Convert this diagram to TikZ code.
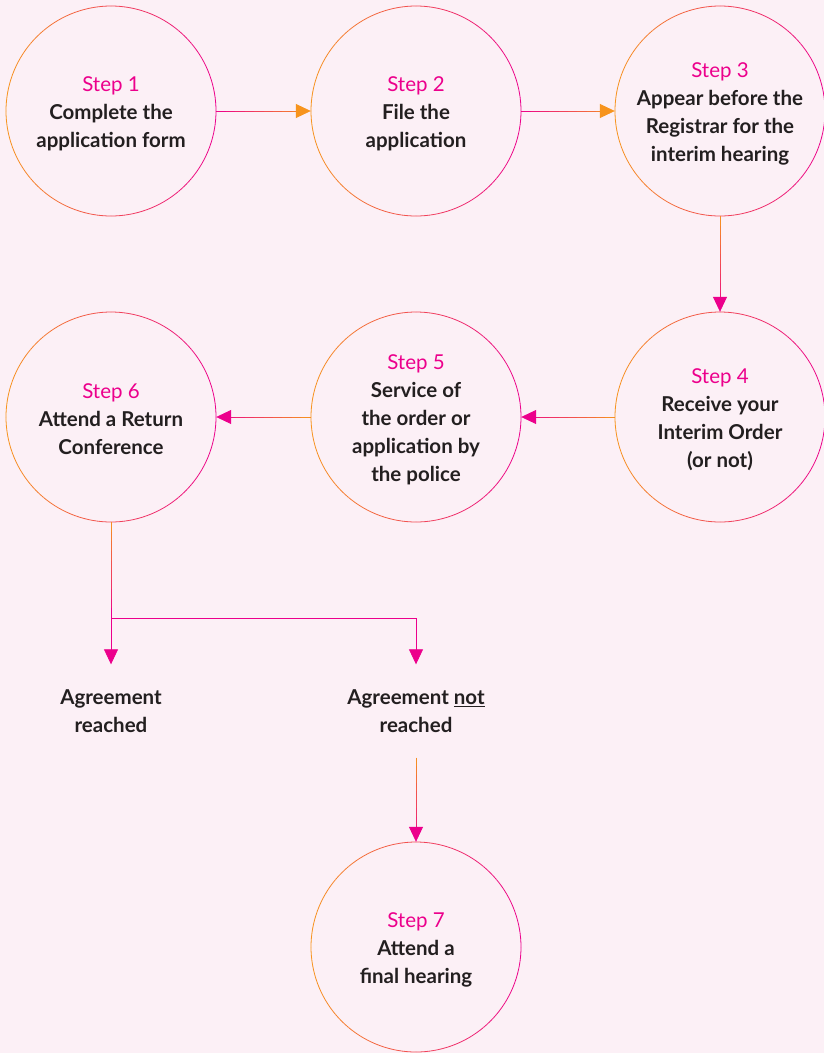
\documentclass[tikz,border=0pt]{standalone}
\usepackage{fontspec}
\setmainfont{Lato}
\usetikzlibrary{positioning, calc, arrows.meta}
\definecolor{stepPink}{HTML}{EC008C}
\definecolor{stepOrange}{HTML}{F7941D}
\definecolor{bodyText}{HTML}{231F20}
\definecolor{paper}{HTML}{FCF0F6}
\tikzset{stepnode/.style={circle, minimum size=210pt, inner sep=0pt, align=center,
    text=bodyText, font=\fontsize{20.5}{28}\selectfont\bfseries}}
\tikzset{outcome/.style={align=center, inner xsep=0pt, inner ysep=25pt,
    text=bodyText, font=\fontsize{20.5}{28}\selectfont\bfseries}}
\tikzset{flowtip/.style={-{Triangle[length=15pt,width=14pt]}}}
\tikzset{thin line/.style={line width=0.8pt}}
\newcommand{\steplabel}[1]{{\rule{0pt}{20pt}\mdseries\color{stepPink}Step #1}}
% ring of a step, orange on the left, pink on the right
\newcommand{\ring}[1]{%
  \foreach \a in {0,5,...,355}{%
    \pgfmathsetmacro{\mix}{50+50*cos(\a+2.5)}%
    \draw[thin line, stepPink!\mix!stepOrange] ($(#1.center)+(\a:105pt)$)
      arc[start angle=\a, end angle=\a+5, radius=105pt];
  }}
% connector fading from one colour into the other
\newcommand{\flow}[5][flowtip]{%
  \foreach \k in {0,...,8}{%
    \pgfmathsetmacro{\ta}{\k/10}\pgfmathsetmacro{\tb}{(\k+1.05)/10}%
    \pgfmathsetmacro{\mix}{100-(\k+0.5)*10}%
    \draw[thin line, #4!\mix!#5] ($(#2)!\ta!(#3)$) -- ($(#2)!\tb!(#3)$);
  }
  \draw[thin line, #1, #5] ($(#2)!0.9!(#3)$) -- (#3);
}

\begin{document}
\begin{tikzpicture}[x=1pt, y=-1pt]

  \fill[paper] (0,0) rectangle (824,1053);
  \useasboundingbox (0,0) rectangle (824,1053);

  \node[stepnode] (s1) at (111,111) {\steplabel{1}\\Complete the\\application form};
  \node[stepnode] (s2) at (416,111) {\steplabel{2}\\File the\\application};
  \node[stepnode] (s3) at (720,111) {\steplabel{3}\\Appear before the\\Registrar for the\\interim hearing};
  \node[stepnode] (s4) at (720,417) {\steplabel{4}\\Receive your\\Interim Order\\(or not)};
  \node[stepnode] (s5) at (416,417) {\steplabel{5}\\Service of\\the order or\\application by\\the police};
  \node[stepnode] (s6) at (111,417) {\steplabel{6}\\Attend a Return\\Conference};
  \node[stepnode] (s7) at (416,947) {\steplabel{7}\\Attend a\\final hearing};

  \node[outcome] (a1) at (111,711) {Agreement\\reached};
  \node[outcome] (a2) at (416,711) {Agreement \underline{not}\\reached};

  \foreach \s in {s1,s2,s3,s4,s5,s6,s7} {\ring{\s}}

  \flow{s1.east}{s2.west}{stepPink}{stepOrange}
  \flow{s2.east}{s3.west}{stepPink}{stepOrange}
  \flow{s3.south}{s4.north}{stepOrange}{stepPink}
  \flow{s4.west}{s5.east}{stepOrange}{stepPink}
  \flow{s5.west}{s6.east}{stepOrange}{stepPink}

  \coordinate (split) at (111,618);
  \coordinate (splitR) at (416,618);
  \flow[]{s6.south}{split}{stepOrange}{stepPink}
  \draw[thin line, flowtip, stepPink] (split) -- (a1.north);
  \draw[thin line, stepPink] (split) -- (splitR);
  \draw[thin line, flowtip, stepPink] (splitR) -- (a2.north);
  \flow{a2.south}{s7.north}{stepOrange}{stepPink}

\end{tikzpicture}
\end{document}
